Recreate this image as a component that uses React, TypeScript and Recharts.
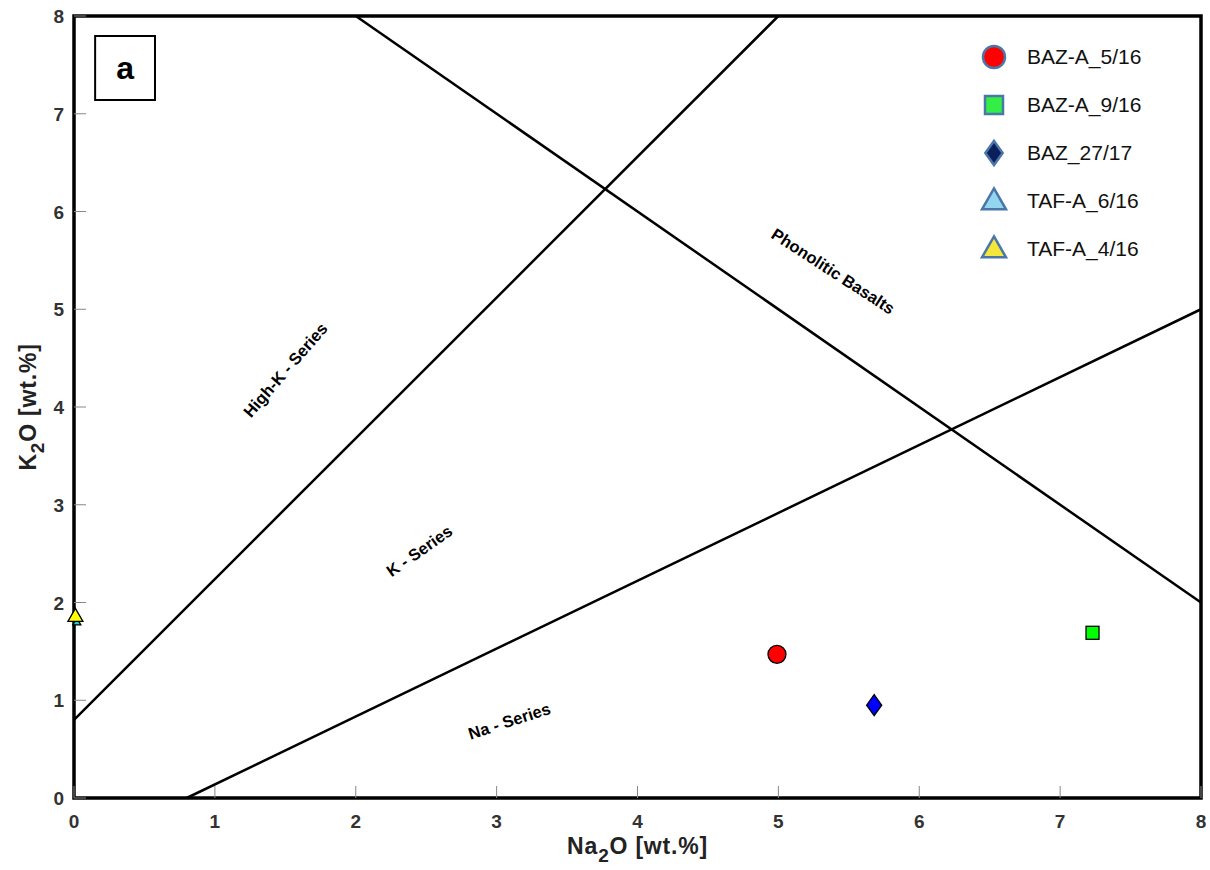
import React from 'react';
import { ScatterChart, Scatter, XAxis, YAxis, ReferenceLine, ReferenceArea, Legend, Label } from 'recharts';

// ---- data ----
const xTicks = [0, 1, 2, 3, 4, 5, 6, 7, 8];
const yTicks = [0, 1, 2, 3, 4, 5, 6, 7, 8];

const baz5_16 = [{ x: 4.99, y: 1.47 }];
const baz9_16 = [{ x: 7.23, y: 1.69 }];
const baz27_17 = [{ x: 5.68, y: 0.95 }];
const taf6_16 = [{ x: 0.02, y: 1.8 }];
const taf4_16 = [{ x: 0.01, y: 1.86 }];

const highKBoundary = [{ x: 0, y: 0.8 }, { x: 5, y: 8 }];
const phonoliticBoundary = [{ x: 2, y: 8 }, { x: 8, y: 2 }];
const naBoundary = [{ x: 0.8, y: 0 }, { x: 8, y: 5 }];

const fieldLabels = [
  { x: 1.5, y: 4.38, text: 'High-K - Series', angle: -49 },
  { x: 2.45, y: 2.53, text: 'K - Series', angle: -35 },
  { x: 3.09, y: 0.79, text: 'Na - Series', angle: -18 },
  { x: 5.39, y: 5.39, text: 'Phonolitic Basalts', angle: 33 },
];

const panelLetter = 'a';
const xTitle = ['Na', '2', 'O [wt.%]'];
const yTitle = ['K', '2', 'O [wt.%]'];

const series = [
  { name: 'BAZ-A_5/16', data: baz5_16, kind: 'circle', fill: '#ff0000', size: 18, legendFill: '#ff0000', legendSize: 22 },
  { name: 'BAZ-A_9/16', data: baz9_16, kind: 'square', fill: '#00ff00', size: 13, legendFill: '#33ee44', legendSize: 18 },
  { name: 'BAZ_27/17', data: baz27_17, kind: 'diamond', fill: '#0000ff', size: 21, legendFill: '#0a1f5c', legendSize: 24 },
  { name: 'TAF-A_6/16', data: taf6_16, kind: 'triangle', fill: '#22c8d8', size: 8, legendFill: '#93d4ef', legendSize: 24 },
  { name: 'TAF-A_4/16', data: taf4_16, kind: 'triangle', fill: '#ffff00', size: 15, legendFill: '#f5e63c', legendSize: 24 },
];

const FONT = "Arial, 'Liberation Sans', sans-serif";

function Marker({ kind, cx, cy, size, fill, stroke, strokeWidth }: any) {
  const s = size;
  if (kind === 'circle') return <circle cx={cx} cy={cy} r={s / 2} fill={fill} stroke={stroke} strokeWidth={strokeWidth} />;
  if (kind === 'square') return <rect x={cx - s / 2} y={cy - s / 2} width={s} height={s} fill={fill} stroke={stroke} strokeWidth={strokeWidth} />;
  if (kind === 'diamond') {
    const w = s * 0.36;
    const h = s / 2;
    return <polygon points={`${cx},${cy - h} ${cx + w},${cy} ${cx},${cy + h} ${cx - w},${cy}`} fill={fill} stroke={stroke} strokeWidth={strokeWidth} />;
  }
  const h = s * 0.87;
  return (
    <polygon
      points={`${cx},${cy - h * 0.6} ${cx + s / 2},${cy + h * 0.4} ${cx - s / 2},${cy + h * 0.4}`}
      fill={fill}
      stroke={stroke}
      strokeWidth={strokeWidth}
    />
  );
}

const XTick = (props: any) => {
  const { x, y, payload } = props;
  return (
    <g>
      <line x1={x} y1={y} x2={x} y2={y - 12} stroke="#888" strokeWidth={1} />
      <text x={x} y={y + 30} textAnchor="middle" fontFamily={FONT} fontWeight="bold" fontSize={19} fill="#333">
        {payload.value}
      </text>
    </g>
  );
};

const YTick = (props: any) => {
  const { x, y, payload } = props;
  return (
    <g>
      <line x1={x} y1={y} x2={x + 12} y2={y} stroke="#888" strokeWidth={1} />
      <text x={x - 10} y={y + 7} textAnchor="end" fontFamily={FONT} fontWeight="bold" fontSize={19} fill="#333">
        {payload.value}
      </text>
    </g>
  );
};

const XTitle = (props: any) => {
  const vb = props.viewBox;
  const cx = vb.x + vb.width / 2;
  const cy = vb.y + 56;
  return (
    <text x={cx} y={cy} textAnchor="middle" fontFamily={FONT} fontWeight="bold" fontSize={23} letterSpacing={0.8} fill="#222">
      <tspan>{xTitle[0]}</tspan>
      <tspan dy={8} fontSize={19}>{xTitle[1]}</tspan>
      <tspan dy={-8}>{xTitle[2]}</tspan>
    </text>
  );
};

const YTitle = (props: any) => {
  const vb = props.viewBox;
  const cx = vb.x + 36;
  const cy = vb.y + vb.height / 2;
  return (
    <text x={cx} y={cy} transform={`rotate(-90 ${cx} ${cy})`} textAnchor="middle" fontFamily={FONT} fontWeight="bold" fontSize={23} letterSpacing={0.8} fill="#222">
      <tspan>{yTitle[0]}</tspan>
      <tspan dy={8} fontSize={19}>{yTitle[1]}</tspan>
      <tspan dy={-8}>{yTitle[2]}</tspan>
    </text>
  );
};

const FieldLabel = (props: any) => {
  const { cx, cy, payload } = props;
  return (
    <text
      x={cx}
      y={cy}
      transform={`rotate(${payload.angle} ${cx} ${cy})`}
      textAnchor="middle"
      dominantBaseline="central"
      fontFamily={FONT}
      fontWeight="bold"
      fontSize={16.5}
      fill="#000"
    >
      {payload.text}
    </text>
  );
};

const renderLegend = () => (
  <div style={{ fontFamily: FONT }}>
    {series.map((s) => (
      <div key={s.name} style={{ display: 'flex', alignItems: 'center', height: 48 }}>
        <svg width={32} height={30} style={{ display: 'block' }}>
          <Marker kind={s.kind} cx={16} cy={15} size={s.legendSize} fill={s.legendFill} stroke="#4a76a8" strokeWidth={2.5} />
        </svg>
        <span style={{ marginLeft: 17, fontSize: 21, color: '#111' }}>{s.name}</span>
      </div>
    ))}
  </div>
);

export default function App() {
  return (
    <div style={{ position: 'absolute', left: 0, top: 0, width: 1210, height: 870, background: '#fff' }}>
      <ScatterChart width={1210} height={870} margin={{ top: 16, right: 9, bottom: 0, left: 0 }}>
        <XAxis
          type="number"
          dataKey="x"
          domain={[0, 8]}
          ticks={xTicks}
          axisLine={false}
          tickLine={false}
          tickSize={0}
          tickMargin={0}
          height={72}
          tick={<XTick />}
          interval={0}
        >
          <Label content={<XTitle />} />
        </XAxis>
        <YAxis
          type="number"
          dataKey="y"
          domain={[0, 8]}
          ticks={yTicks}
          axisLine={false}
          tickLine={false}
          tickSize={0}
          tickMargin={0}
          width={74}
          tick={<YTick />}
          interval={0}
        >
          <Label content={<YTitle />} />
        </YAxis>
        <ReferenceArea x1={0} x2={8} y1={0} y2={8} fill="none" fillOpacity={0} stroke="#000" strokeWidth={3.5} ifOverflow="visible" />
        <ReferenceArea
          x1={0.15}
          x2={0.575}
          y1={7.14}
          y2={7.795}
          fill="#fff"
          fillOpacity={1}
          stroke="#000"
          strokeWidth={2}
          label={{ value: panelLetter, position: 'center', fontSize: 32, fontWeight: 'bold', fill: '#000', fontFamily: FONT }}
        />
        <ReferenceLine segment={highKBoundary} stroke="#000" strokeWidth={2.5} />
        <ReferenceLine segment={phonoliticBoundary} stroke="#000" strokeWidth={2.5} />
        <ReferenceLine segment={naBoundary} stroke="#000" strokeWidth={2.5} />
        <Scatter data={fieldLabels} shape={<FieldLabel />} isAnimationActive={false} legendType="none" />
        {series.map((s) => (
          <Scatter
            key={s.name}
            name={s.name}
            data={s.data}
            isAnimationActive={false}
            shape={(p: any) => <Marker kind={s.kind} cx={p.cx} cy={p.cy} size={s.size} fill={s.fill} stroke="#000" strokeWidth={1.3} />}
          />
        ))}
        <Legend
          layout="vertical"
          align="center"
          verticalAlign="middle"
          content={renderLegend}
          wrapperStyle={{ position: 'absolute', top: 33, left: 978, width: 220 }}
        />
      </ScatterChart>
    </div>
  );
}
